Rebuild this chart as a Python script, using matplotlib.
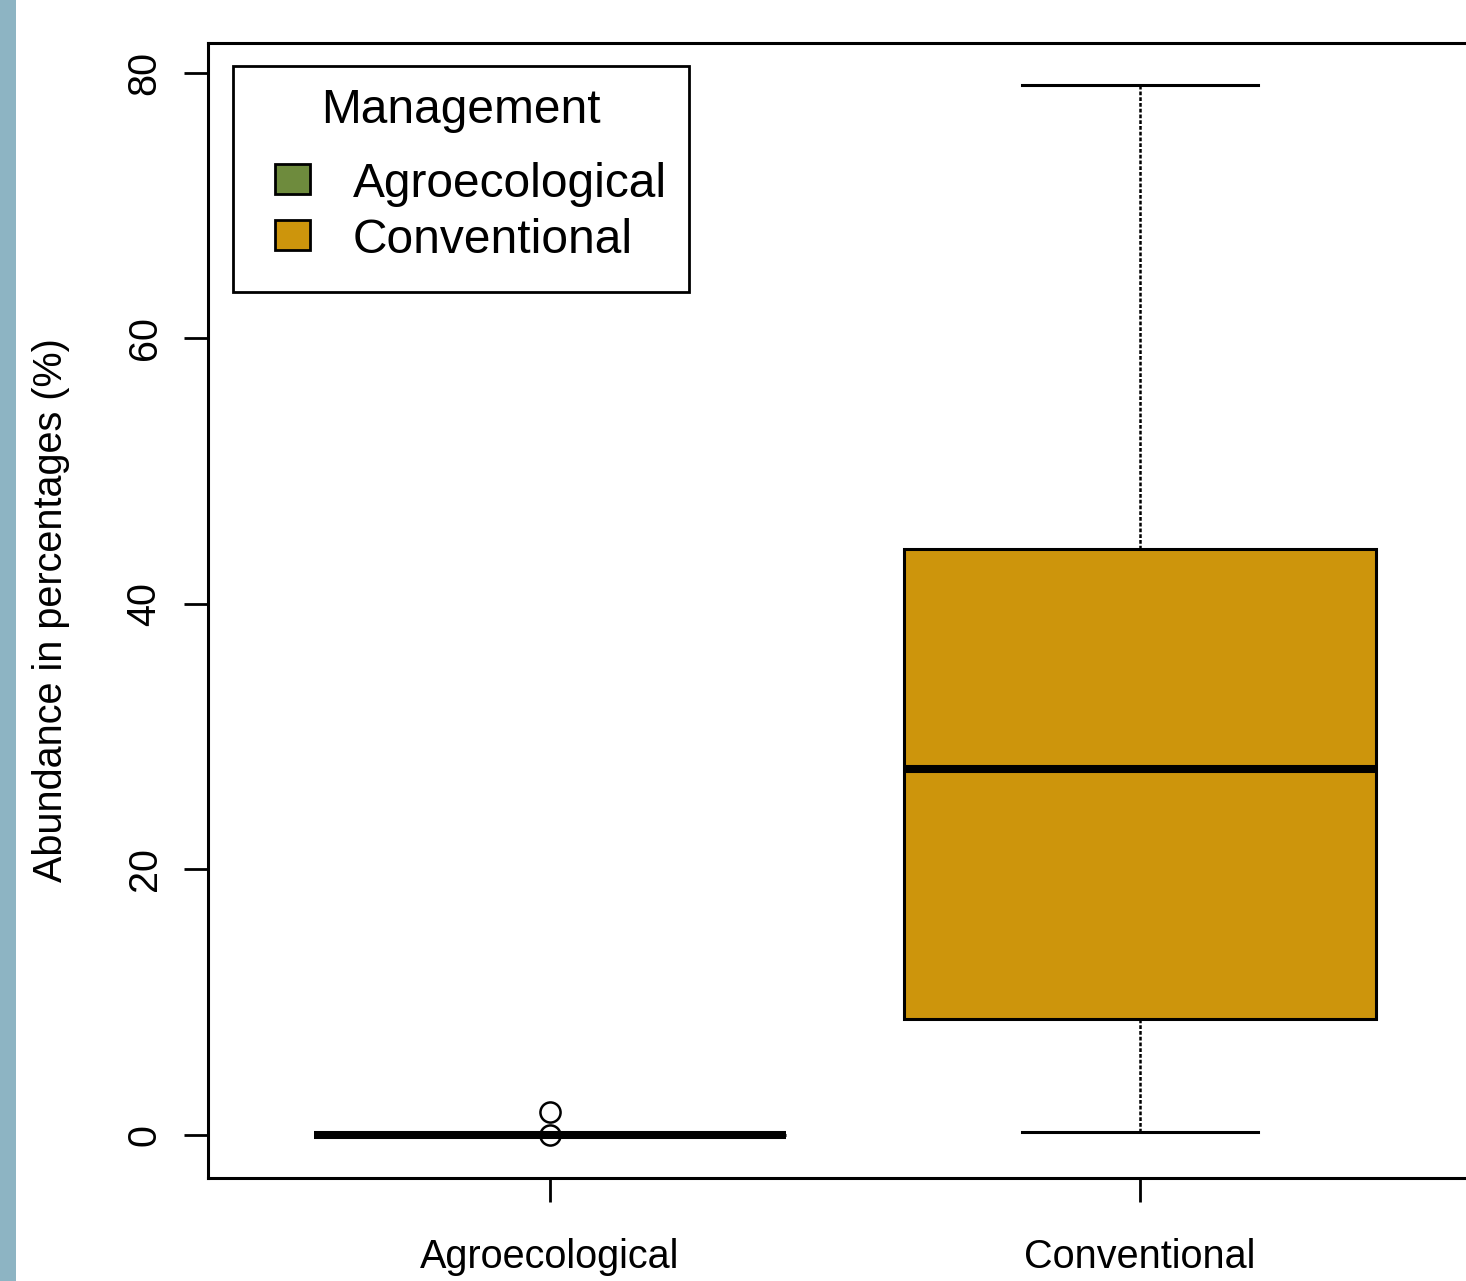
import numpy as np
import matplotlib.pyplot as plt
from matplotlib.patches import Rectangle

plt.rcParams['font.family'] = ['Liberation Sans', 'DejaVu Sans']

groups = ["Agroecological", "Conventional"]
colors = ["#6E8B3D", "#CD950C"]

# box statistics (percent)
whislo = [0.0, 0.25]
q1 = [0.0, 8.75]
med = [0.0, 27.6]
q3 = [0.0, 44.15]
whishi = [0.0, 79.1]
fliers = [[0.0, 1.75], []]

stats = []
for i in range(len(groups)):
    stats.append({"label": groups[i], "whislo": whislo[i], "q1": q1[i],
                  "med": med[i], "q3": q3[i], "whishi": whishi[i],
                  "fliers": fliers[i]})

W, H = 1466, 1281
fig = plt.figure(figsize=(W / 100, H / 100), dpi=100)


def fx(x):
    return x / W


def fy(y):
    # pixel row from top -> figure fraction
    return 1 - y / H


fig.patches.append(Rectangle((0, 0), 16 / W, 1, transform=fig.transFigure,
                             facecolor="#8db4c3", edgecolor="none", zorder=0))

ax = fig.add_axes([208 / W, 103 / H, 1274 / W, 1135 / H])

bp = ax.bxp(stats, positions=[1, 2], widths=0.8, patch_artist=True,
            boxprops=dict(linewidth=2.2, edgecolor="black"),
            medianprops=dict(color="black", linewidth=5.8, solid_capstyle="butt"),
            whiskerprops=dict(color="black", linewidth=1.8, linestyle=(0, (1.5, 0.8))),
            capprops=dict(color="black", linewidth=2.2),
            capwidths=0.4,
            flierprops=dict(marker="o", markersize=14.5, markerfacecolor="none",
                            markeredgecolor="black", markeredgewidth=1.8))
for patch, c in zip(bp["boxes"], colors):
    patch.set_facecolor(c)

ax.set_xlim(0.42, 2.58)
ax.set_ylim(-3.24, 82.26)
ax.set_yticks([0, 20, 40, 60, 80])
ax.set_xticks([1, 2])
ax.set_xticklabels(groups)

for s in ax.spines.values():
    s.set_linewidth(2.2)
ax.tick_params(axis="both", length=17, width=2.0, labelsize=28.5, direction="out")
ax.tick_params(axis="x", pad=26)
ax.tick_params(axis="y", pad=15)
for lab in ax.get_yticklabels():
    lab.set_rotation(90)
    lab.set_va("center")

ax.set_ylabel("Abundance in percentages (%)", fontsize=28.5, labelpad=40)

# legend drawn the way R places it
fig.patches.append(Rectangle((fx(233), fy(292)), fx(689) - fx(233), fy(66) - fy(292),
                             transform=fig.transFigure, facecolor="white",
                             edgecolor="black", linewidth=2.0, zorder=5))
fig.text(fx(461), fy(123), "Management", fontsize=34.5, ha="center",
         va="baseline", zorder=6)
key_tops = [164, 220]
key_base = [197, 253]
for i in range(len(groups)):
    fig.patches.append(Rectangle((fx(275), fy(key_tops[i] + 30)), fx(35), 30 / H,
                                 transform=fig.transFigure, facecolor=colors[i],
                                 edgecolor="black", linewidth=2.0, zorder=6))
    fig.text(fx(353), fy(key_base[i]), groups[i], fontsize=34.5, ha="left",
             va="baseline", zorder=6)

fig.savefig("out.png", dpi=100)
